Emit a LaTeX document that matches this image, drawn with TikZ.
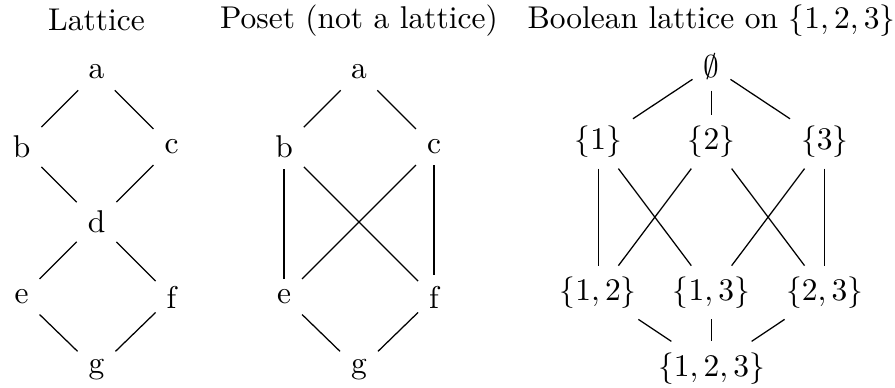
\documentclass[tikz,border=0pt]{standalone}
\usepackage{amsmath,amssymb}
\usepackage{tikz}
\usetikzlibrary{positioning}

\begin{document}
\begin{tikzpicture}[
    x=0.837cm, y=0.837cm,
    elem/.style={inner sep=3.33pt},
    title/.style={inner sep=3.33pt},
    edge/.style={draw, line width=0.4pt}
]
    \useasboundingbox (-1.287,0.96) rectangle (10.647,-4.213);

    % Lattice
    \node[title] (ltitle) at (0,0.69) {Lattice};
    \node[elem] (la) at (0,0) {a};
    \node[elem] (lb) at (-1,-1) {b};
    \node[elem] (lc) at (1,-1) {c};
    \node[elem] (ld) at (0,-2) {d};
    \node[elem] (le) at (-1,-3) {e};
    \node[elem] (lf) at (1,-3) {f};
    \node[elem] (lg) at (0,-3.97) {g};

    \draw[edge] (la) -- (lb);
    \draw[edge] (la) -- (lc);
    \draw[edge] (lb) -- (ld);
    \draw[edge] (lc) -- (ld);
    \draw[edge] (ld) -- (le);
    \draw[edge] (ld) -- (lf);
    \draw[edge] (le) -- (lg);
    \draw[edge] (lf) -- (lg);

    % Poset (not a lattice)
    \node[title] (ptitle) at (3.5,0.69) {Poset (not a lattice)};
    \node[elem] (pa) at (3.5,0) {a};
    \node[elem] (pb) at (2.5,-1) {b};
    \node[elem] (pc) at (4.5,-1) {c};
    \node[elem] (pe) at (2.5,-3) {e};
    \node[elem] (pf) at (4.5,-3) {f};
    \node[elem] (pg) at (3.5,-3.97) {g};

    \draw[edge] (pa) -- (pb);
    \draw[edge] (pa) -- (pc);
    \draw[edge] (pb) -- (pe);
    \draw[edge] (pb) -- (pf);
    \draw[edge] (pc) -- (pe);
    \draw[edge] (pc) -- (pf);
    \draw[edge] (pe) -- (pg);
    \draw[edge] (pf) -- (pg);

    % Boolean lattice
    \node[title] (btitle) at (8.2,0.69) {Boolean lattice on $\{1,2,3\}$};
    \node[elem] (s0) at (8.2,0.07) {$\emptyset$};
    \node[elem] (s1) at (6.69,-0.93) {$\{1\}$};
    \node[elem] (s2) at (8.2,-0.93) {$\{2\}$};
    \node[elem] (s3) at (9.71,-0.93) {$\{3\}$};
    \node[elem] (s12) at (6.69,-2.94) {$\{1,2\}$};
    \node[elem] (s13) at (8.2,-2.94) {$\{1,3\}$};
    \node[elem] (s23) at (9.71,-2.94) {$\{2,3\}$};
    \node[elem] (s123) at (8.2,-3.95) {$\{1,2,3\}$};

    \draw[edge] (s0) -- (s1);
    \draw[edge] (s0) -- (s2);
    \draw[edge] (s0) -- (s3);
    \draw[edge] (s1) -- (s12);
    \draw[edge] (s1) -- (s13);
    \draw[edge] (s2) -- (s12);
    \draw[edge] (s2) -- (s23);
    \draw[edge] (s3) -- (s13);
    \draw[edge] (s3) -- (s23);
    \draw[edge] (s12) -- (s123);
    \draw[edge] (s13) -- (s123);
    \draw[edge] (s23) -- (s123);
\end{tikzpicture}
\end{document}
